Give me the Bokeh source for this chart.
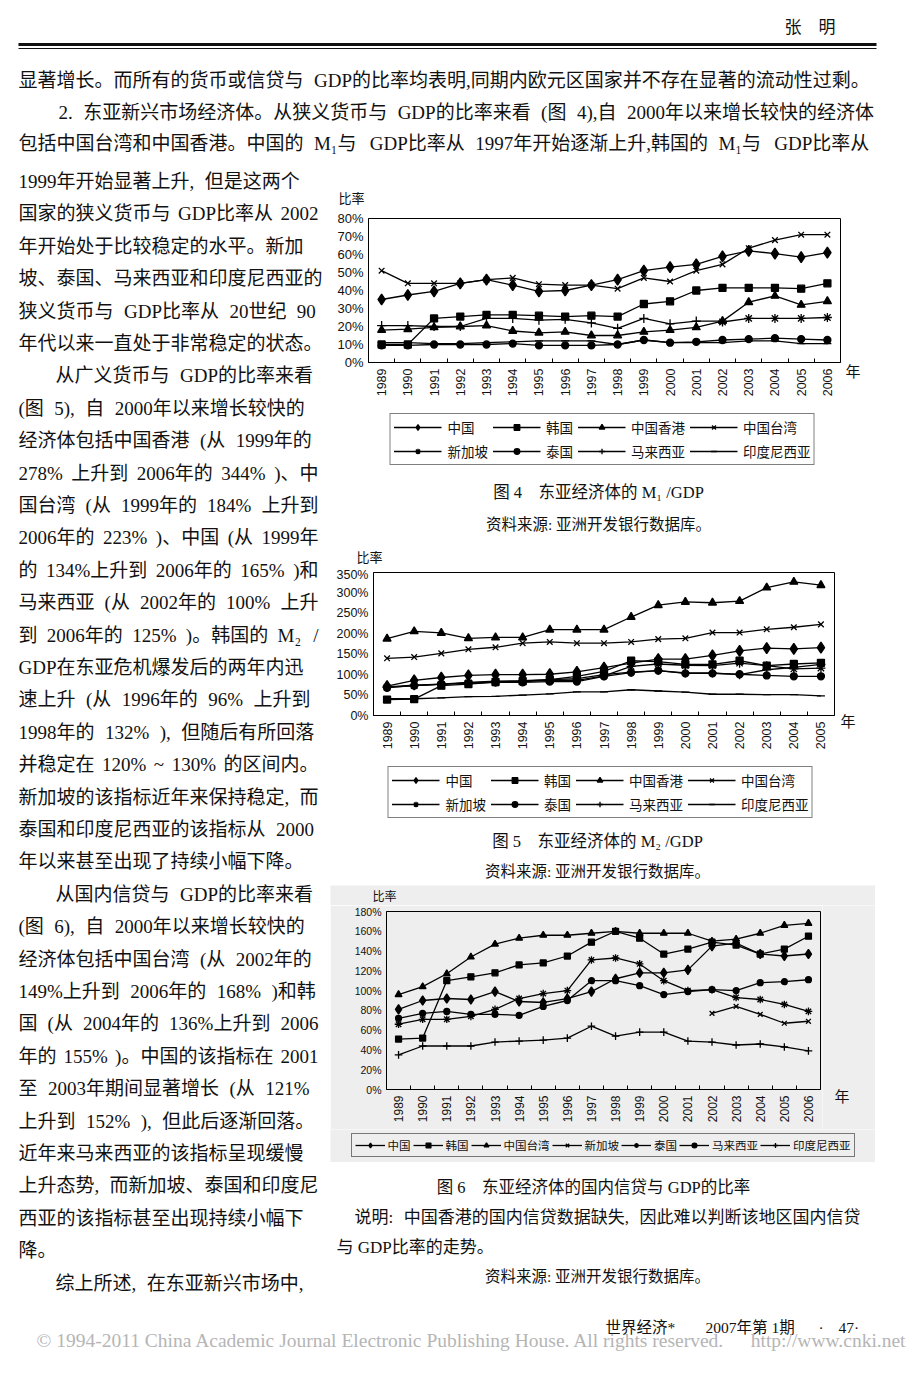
import math
from bokeh.plotting import figure
from bokeh.layouts import column, row
from bokeh.models import (Range1d, FixedTicker, PrintfTickFormatter, Legend,
                          LegendItem, ColumnDataSource)
from bokeh.core.properties import value
from bokeh.embed import file_html
from bokeh.resources import INLINE

NAN = float("nan")

# ---------------- data: Figure 4  M1/GDP (%) ----------------
M1_YEARS = [1989, 1990, 1991, 1992, 1993, 1994, 1995, 1996, 1997, 1998,
            1999, 2000, 2001, 2002, 2003, 2004, 2005, 2006]
M1_YTICKS = [0, 10, 20, 30, 40, 50, 60, 70, 80]
M1_CHINA = [35, 37.5, 39.5, 44, 46, 43, 39.5, 40, 43, 46, 51, 53, 54.5, 59, 62, 60.5, 58.5, 61]
M1_KOREA = [10, 10, 24.5, 25.5, 26.5, 26.5, 26, 25.5, 26, 25.5, 32.5, 34, 40, 41.5, 41.5, 41.5, 41, 44]
M1_HK = [18, 18.5, 19.5, 20, 20.5, 17.5, 16.5, 17, 15, 15, 17, 18, 19.5, 23, 33.5, 37, 32, 34]
M1_TW = [51, 44, 44, 44, 46, 47, 43.5, 43, 43, 41, 47, 45, 51, 54.5, 63.5, 68, 71, 71]
M1_SG = [NAN, NAN, NAN, NAN, NAN, NAN, NAN, NAN, NAN, NAN, NAN, NAN, NAN, 22.5, 24.5, 24.5, 24.5, 25]
M1_TH = [9.5, 9.5, 10, 10, 10, 10.5, 9.5, 9.5, 9.5, 10, 12.5, 11, 11.5, 12.5, 13, 13.5, 13, 12.5]
M1_MY = [20.5, 20.5, 20, 20, 24.5, 24.5, 23.5, 24, 22, 19, 24.5, 21.5, 23, 23, NAN, NAN, NAN, NAN]
M1_ID = [11, 11, 10.5, 10.5, 11, 11.5, 12, 12, 12, 10, 12.5, 11, 11, 11, 12, 12, 10.5, 10.5]

# ---------------- data: Figure 5  M2/GDP (%) ----------------
M2_YEARS = [1989, 1990, 1991, 1992, 1993, 1994, 1995, 1996, 1997, 1998,
            1999, 2000, 2001, 2002, 2003, 2004, 2005]
M2_YTICKS = [0, 50, 100, 150, 200, 250, 300, 350]
M2_CHINA = [72, 86, 93, 98, 100, 100, 101, 107, 117, 128, 138, 138, 147, 158, 165, 163, 166]
M2_KOREA = [39, 40, 73, 77, 82, 84, 88, 96, 108, 134, 132, 125, 125, 134, 122, 126, 129]
M2_HK = [188, 206, 202, 189, 191, 191, 210, 210, 210, 241, 270, 278, 276, 280, 313, 327, 319]
M2_TW = [140, 143, 152, 162, 167, 177, 180, 177, 177, 180, 187, 189, 203, 203, 211, 216, 223]
M2_SG = [69, 73, 76, 80, 82, 83, 86, 86, 97, 120, 126, 123, 122, 128, 122, 114, 116]
M2_TH = [68, 73, 77, 79, 81, 81, 83, 83, 96, 105, 110, 103, 103, 101, 98, 96, 96]
M2_MY = [70, 74, 77, 81, 84, 85, 88, 90, 100, 106, 110, 104, 104, 100, 112, 118, 125]
M2_ID = [41, 41, 43, 46, 47, 50, 53, 58, 58, 63, 60, 57, 52, 52, 51, 51, 48]

# ---------------- data: Figure 6  domestic credit/GDP (%) ----------------
DC_YEARS = [1989, 1990, 1991, 1992, 1993, 1994, 1995, 1996, 1997, 1998,
            1999, 2000, 2001, 2002, 2003, 2004, 2005, 2006]
DC_YTICKS = [0, 20, 40, 60, 80, 100, 120, 140, 160, 180]
DC_CHINA = [81, 90, 92, 91, 99, 89, 88, 92, 99, 112, 118, 118, 121, 145, 148, 137, 135, 137]
DC_KOREA = [51, 52, 110, 114, 118, 126, 128, 135, 149, 160, 153, 137, 142, 149, 146, 137, 142, 155]
DC_TW = [96, 104, 117, 134, 147, 153, 156, 156, 158, 160, 158, 158, 158, 150, 152, 158, 166, 168]
DC_SG = [NAN, NAN, NAN, NAN, NAN, NAN, NAN, NAN, NAN, NAN, NAN, NAN, NAN, 77, 84, 76, 67, 69]
DC_TH = [66, 71, 71, 74, 81, 92, 97, 100, 131, 133, 127, 110, 100, 101, 93, 91, 86, 79]
DC_MY = [72, 77, 79, 76, 76, 75, 84, 90, 110, 110, 105, 96, 99, 101, 100, 108, 109, 111]
DC_ID = [35, 44, 44, 44, 48, 49, 50, 52, 64, 54, 58, 58, 49, 48, 45, 46, 43, 39]

NAMES_8 = ["中国", "韩国", "中国香港", "中国台湾", "新加坡", "泰国", "马来西亚", "印度尼西亚"]
MARKERS_8 = ["diamond", "square", "triangle", "x", "asterisk", "circle", "cross", "dash"]
NAMES_7 = ["中国", "韩国", "中国台湾", "新加坡", "泰国", "马来西亚", "印度尼西亚"]
MARKERS_7 = ["diamond", "square", "triangle", "x", "asterisk", "circle", "cross"]

# ---------------- page text ----------------
HEADER = "张　明"
TOP_LINES = [
    ("显著增长。而所有的货币或信贷与 GDP的比率均表明,同期内欧元区国家并不存在显著的流动性过剩。", 0, True),
    ("2. 东亚新兴市场经济体。从狭义货币与 GDP的比率来看 (图 4),自 2000年以来增长较快的经济体", 1, True),
    ("包括中国台湾和中国香港。中国的 M₁与 GDP比率从 1997年开始逐渐上升,韩国的 M₁与 GDP比率从", 0, True),
]
LEFT_LINES = [
    ("1999年开始显著上升, 但是这两个", 0, True),
    ("国家的狭义货币与 GDP比率从 2002", 0, True),
    ("年开始处于比较稳定的水平。新加", 0, True),
    ("坡、泰国、马来西亚和印度尼西亚的", 0, True),
    ("狭义货币与 GDP比率从 20世纪 90", 0, True),
    ("年代以来一直处于非常稳定的状态。", 0, True),
    ("从广义货币与 GDP的比率来看", 1, True),
    ("(图 5), 自 2000年以来增长较快的", 0, True),
    ("经济体包括中国香港 (从 1999年的", 0, True),
    ("278% 上升到 2006年的 344% )、中", 0, True),
    ("国台湾 (从 1999年的 184% 上升到", 0, True),
    ("2006年的 223% )、中国 (从 1999年", 0, True),
    ("的 134%上升到 2006年的 165% )和", 0, True),
    ("马来西亚 (从 2002年的 100% 上升", 0, True),
    ("到 2006年的 125% )。韩国的 M₂ /", 0, True),
    ("GDP在东亚危机爆发后的两年内迅", 0, True),
    ("速上升 (从 1996年的 96% 上升到", 0, True),
    ("1998年的 132% ), 但随后有所回落", 0, True),
    ("并稳定在 120% ~ 130% 的区间内。", 0, True),
    ("新加坡的该指标近年来保持稳定, 而", 0, True),
    ("泰国和印度尼西亚的该指标从 2000", 0, True),
    ("年以来甚至出现了持续小幅下降。", 0, False),
    ("从国内信贷与 GDP的比率来看", 1, True),
    ("(图 6), 自 2000年以来增长较快的", 0, True),
    ("经济体包括中国台湾 (从 2002年的", 0, True),
    ("149%上升到 2006年的 168% )和韩", 0, True),
    ("国 (从 2004年的 136%上升到 2006", 0, True),
    ("年的 155% )。中国的该指标在 2001", 0, True),
    ("至 2003年期间显著增长 (从 121%", 0, True),
    ("上升到 152% ), 但此后逐渐回落。", 0, True),
    ("近年来马来西亚的该指标呈现缓慢", 0, True),
    ("上升态势, 而新加坡、泰国和印度尼", 0, True),
    ("西亚的该指标甚至出现持续小幅下", 0, True),
    ("降。", 0, False),
    ("综上所述, 在东亚新兴市场中,", 1, True),
]
CAP4 = "图 4　东亚经济体的 M₁ /GDP"
CAP5 = "图 5　东亚经济体的 M₂ /GDP"
CAP6 = "图 6　东亚经济体的国内信贷与 GDP的比率"
SOURCE = "资料来源: 亚洲开发银行数据库。"
NOTE6_A = "说明: 中国香港的国内信贷数据缺失, 因此难以判断该地区国内信贷"
NOTE6_B = "与 GDP比率的走势。"
Y_UNIT = "比率"
X_UNIT = "年"
FOOT_ITEMS = ["世界经济*", "2007年第 1期", "·", "47·"]
COPY_A = "© 1994-2011 China Academic Journal Electronic Publishing House. All rights reserved."
COPY_B = "http://www.cnki.net"

# ---------------- styling ----------------
CJK = "Noto Sans CJK SC"
MIX = "Liberation Serif, Noto Sans CJK SC"
SANS = "Liberation Sans"
INK = "#111111"
BODY_FS = 19
GREY = "#eeeeee"

W_EM = {'G': .722, 'D': .722, 'P': .556, 'M': .889, '%': .833, '(': .333, ')': .333,
        ',': .25, '.': .25, '~': .541, '/': .278, ' ': .25, '*': .5, ':': .278,
        '₁': .5, '₂': .5}


def est_width(s, fs):
    w = 0.0
    for ch in s:
        if ord(ch) >= 0x2E80:
            w += 1.0
        elif ch in W_EM:
            w += W_EM[ch]
        elif ch.isdigit():
            w += 0.5
        elif ch.isupper():
            w += 0.7
        else:
            w += 0.45
    return w * fs


def layout_line(text, x0, x1, fs, justify, cap=0.55):
    segs = text.split(" ")
    if len(segs) == 1 or not justify:
        return [(x0, text)]
    widths = [est_width(s, fs) for s in segs]
    g = (x1 - x0 - sum(widths)) / (len(segs) - 1)
    gap = min(max(g, 0.2 * fs), cap * fs)
    out, x = [], x0
    for s, w in zip(segs, widths):
        out.append((x, s))
        x += w + gap
    return out


def blank(w, h, bg="white"):
    p = figure(width=w, height=h, x_range=Range1d(0, w), y_range=Range1d(h, 0),
               output_backend="svg", toolbar_location=None,
               x_axis_location=None, y_axis_location=None, min_border=0,
               outline_line_color=None, background_fill_color=bg, border_fill_color=bg)
    p.frame_align = False
    p.grid.visible = False
    return p


def put(p, items, fs, font=MIX, color=INK, align="left"):
    p.text(x=[i[0] for i in items], y=[i[1] for i in items], text=[i[2] for i in items],
           text_font=value(font), text_font_size=f"{fs}px", text_color=color,
           text_align=align, text_baseline="middle")


def body(p, lines, x0, x1, y0, lead, indent, fs):
    items = []
    for i, (t, ind, just) in enumerate(lines):
        start = x0 + (indent if ind else 0)
        for x, s in layout_line(t, start, x1, fs, just):
            items.append((x, y0 + i * lead, s))
    put(p, items, fs)


MSIZE = {"diamond": 11, "square": 7, "triangle": 8, "x": 8, "asterisk": 9,
         "circle": 7, "cross": 9, "dash": 8}


def series_glyphs(p, xs, ys, mk, msc):
    src = ColumnDataSource(dict(x=xs, y=ys))
    lr = p.line("x", "y", source=src, line_color="black", line_width=1.3)
    sr = p.scatter("x", "y", source=src, marker=mk, size=MSIZE[mk] * msc,
                   line_color="black", fill_color="black", line_width=1.3)
    return lr, sr


def chart(frame_w, h, years, series, markers, ymax, yticks, bl, bt, bb,
          ytick_fs, year_fs, bg, msc=1.0):
    p = figure(width=bl + frame_w + 2, height=h,
               x_range=Range1d(years[0] - 0.5, years[-1] + 0.5),
               y_range=Range1d(0, ymax), output_backend="svg", toolbar_location=None,
               min_border_left=bl, min_border_right=2, min_border_top=bt,
               min_border_bottom=bb, background_fill_color=bg, border_fill_color=bg)
    p.frame_align = False
    p.grid.visible = False
    p.outline_line_color = "black"
    p.outline_line_width = 1
    xa = p.xaxis[0]
    xa.ticker = FixedTicker(ticks=years, minor_ticks=[y + 0.5 for y in years[:-1]])
    xa.major_label_orientation = math.pi / 2
    xa.major_tick_line_color = None
    xa.major_tick_in = 0
    xa.major_tick_out = 0
    xa.minor_tick_line_color = "black"
    xa.minor_tick_in = 4
    xa.minor_tick_out = 0
    xa.axis_line_color = "black"
    xa.major_label_text_font = SANS
    xa.major_label_text_font_size = f"{year_fs}px"
    xa.major_label_text_color = INK
    xa.major_label_standoff = 6
    ya = p.yaxis[0]
    ya.ticker = FixedTicker(ticks=yticks)
    ya.formatter = PrintfTickFormatter(format="%d%%")
    ya.major_tick_line_color = None
    ya.minor_tick_line_color = None
    ya.major_tick_in = 0
    ya.major_tick_out = 0
    ya.axis_line_color = "black"
    ya.major_label_text_font = SANS
    ya.major_label_text_font_size = f"{ytick_fs}px"
    ya.major_label_text_color = INK
    ya.major_label_standoff = 5
    for vals, mk in zip(series, markers):
        series_glyphs(p, years, vals, mk, msc)
    return p


def legend_fig(w, h, years, series, names, markers, ncols, bg, msc, **kw):
    # the series are drawn here only so the legend has glyphs; they fall outside this range
    p = blank(w, h, bg)
    items = []
    for vals, name, mk in zip(series, names, markers):
        lr, sr = series_glyphs(p, years, vals, mk, msc)
        items.append(LegendItem(label=value(name), renderers=[lr, sr]))
    p.add_layout(Legend(items=items, location="top_center", orientation="horizontal",
                        ncols=ncols, border_line_color="black", border_line_width=1,
                        background_fill_color=bg, background_fill_alpha=1,
                        label_text_font=CJK, label_text_color=INK, **kw))
    return p


def unit_fig(w, h, x, y, text, fs, bg="white"):
    p = blank(w, h, bg)
    put(p, [(x, y, text)], fs, font=CJK)
    return p


# ---------------- top block (page y 0..162) ----------------
top = blank(920, 162)
put(top, [(835, 27, HEADER)], 17, align="right")
top.segment(x0=[18], y0=[44], x1=[876], y1=[44], line_width=3, line_color=INK)
top.segment(x0=[18], y0=[48], x1=[876], y1=[48], line_width=1, line_color=INK)
body(top, TOP_LINES, 18, 877, 80, 31.5, 40, BODY_FS)

# ---------------- left text column (page x 0..330, y 162..1300) ----------------
left = blank(330, 1138)
body(left, LEFT_LINES, 18, 318, 19, 32.4, 37, BODY_FS)

# ---------------- Figure 4 block (page x 330..920, y 162..545) ----------------
S4 = [M1_CHINA, M1_KOREA, M1_HK, M1_TW, M1_SG, M1_TH, M1_MY, M1_ID]
LEG_BIG = dict(label_text_font_size="13.5px", glyph_width=48, glyph_height=14,
               label_height=14, label_standoff=6, spacing=4, padding=3, margin=3)
h4 = unit_fig(590, 48, 8, 35, Y_UNIT, 13)
c4 = chart(472, 200, M1_YEARS, S4, MARKERS_8, 80, M1_YTICKS, 38, 8, 48, 13, 12.5, "white")
s4 = unit_fig(78, 200, 3, 160, X_UNIT, 15)
leg4 = legend_fig(544, 60, M1_YEARS, S4, NAMES_8, MARKERS_8, 4, "white", 1.0, **LEG_BIG)
cap4 = blank(590, 75)
put(cap4, [(268, 22, CAP4)], 16.5, align="center")
put(cap4, [(268, 54, SOURCE)], 15.5, align="center")

# ---------------- Figure 5 block (page y 545..885) ----------------
S5 = [M2_CHINA, M2_KOREA, M2_HK, M2_TW, M2_SG, M2_TH, M2_MY, M2_ID]
h5 = unit_fig(590, 22, 26, 11, Y_UNIT, 13)
c5 = chart(461, 196, M2_YEARS, S5, MARKERS_8, 350, M2_YTICKS, 43, 5, 48, 12.5, 12.5, "white")
s5 = unit_fig(84, 196, 4, 153, X_UNIT, 15)
leg5 = legend_fig(540, 55, M2_YEARS, S5, NAMES_8, MARKERS_8, 4, "white", 1.0, **LEG_BIG)
cap5 = blank(590, 67)
put(cap5, [(267, 23, CAP5)], 16.5, align="center")
put(cap5, [(267, 53, SOURCE)], 15.5, align="center")

# ---------------- Figure 6 block (page y 885..1300) ----------------
S6 = [DC_CHINA, DC_KOREA, DC_TW, DC_SG, DC_TH, DC_MY, DC_ID]
h6 = unit_fig(545, 20, 42, 10, Y_UNIT, 12, GREY)
c6 = chart(434, 224, DC_YEARS, S6, MARKERS_7, 180, DC_YTICKS, 56, 6, 40, 10.5, 12, GREY, msc=0.85)
s6 = unit_fig(53, 224, 12, 190, X_UNIT, 15, GREY)
leg6 = legend_fig(545, 33, DC_YEARS, S6, NAMES_7, MARKERS_7, 7, GREY, 0.85,
                  label_text_font_size="11.5px", glyph_width=30, glyph_height=12,
                  label_height=12, label_standoff=3, spacing=2, padding=3, margin=4)
cap6 = blank(590, 138)
put(cap6, [(263, 25, CAP6)], 16.5, align="center")
note_items = [(x, 55, s) for x, s in layout_line(NOTE6_A, 24, 530, 17, True, cap=0.7)]
note_items.append((6, 85, NOTE6_B))
put(cap6, note_items, 17)
put(cap6, [(267, 114, SOURCE)], 15.5, align="center")

right_col = column(h4, row(c4, s4), leg4, cap4,
                   h5, row(c5, s5), leg5, cap5,
                   h6, row(c6, s6), leg6, cap6)

# ---------------- footer (page y 1300..1382) ----------------
foot = blank(920, 82)
put(foot, [(605, 27, FOOT_ITEMS[0]), (705, 27, FOOT_ITEMS[1]),
           (818, 27, FOOT_ITEMS[2]), (838, 27, FOOT_ITEMS[3])], 15.5)
put(foot, [(36, 40, COPY_A)], 19.5, font="Liberation Serif", color="#b5b5b5")
put(foot, [(905, 40, COPY_B)], 19.5, font="Liberation Serif", color="#b5b5b5", align="right")

root = column(top, row(left, right_col), foot)
open("out.html", "w").write(file_html(root, INLINE, title="东亚经济体"))
